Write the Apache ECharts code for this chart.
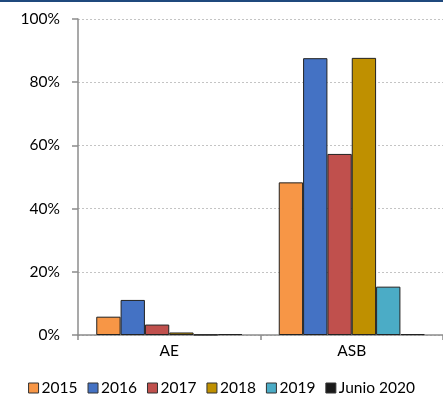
<!DOCTYPE html>
<html>
<head>
<meta charset="utf-8">
<script src="https://cdn.jsdelivr.net/npm/echarts@6/dist/echarts.min.js"></script>
<style>
html,body{margin:0;padding:0;background:#fff;}
#topline{position:absolute;left:0;top:0;width:443px;height:2px;background:#1F497D;}
#c{width:443px;height:402px;}
</style>
</head>
<body>
<div id="topline"></div>
<div id="c"></div>
<script>
const categories = ['AE', 'ASB'];
const seriesNames = ['2015', '2016', '2017', '2018', '2019', 'Junio 2020'];
const v2015 = [5.8, 48.3];
const v2016 = [11.1, 87.6];
const v2017 = [3.3, 57.3];
const v2018 = [0.8, 87.7];
const v2019 = [0.1, 15.3];
const vJunio2020 = [0.3, 0.3];
const yTicks = [0, 20, 40, 60, 80, 100];

const values = [v2015, v2016, v2017, v2018, v2019, vJunio2020];
const colors = ['#F79646', '#4472C4', '#C0504D', '#BF9000', '#4BACC6', '#1A1A1A'];
const font = 'Lato, "Noto Sans", sans-serif';

const chart = echarts.init(document.getElementById('c'));
chart.setOption({
  animation: false,
  textStyle: {fontFamily: font},
  legend: {
    bottom: 1,
    left: 'center',
    icon: 'rect',
    itemWidth: 10,
    itemHeight: 10,
    itemGap: 10,
    textStyle: {fontFamily: font, fontSize: 15.5, color: '#000', padding: [0,0,0,-2]},
    data: seriesNames.map((n, i) => ({name: n, itemStyle: {borderColor: '#333', borderWidth: 1}}))
  },
  grid: {left: 78, top: 19, width: 368, height: 316},
  xAxis: {
    type: 'category',
    data: categories,
    axisLine: {lineStyle: {color: '#8C8C8C', width: 1.5}},
    axisTick: {show: true, length: 5, lineStyle: {color: '#8C8C8C', width: 1.5}},
    axisLabel: {fontFamily: font, fontSize: 15.5, color: '#000', margin: 8}
  },
  yAxis: {
    type: 'value',
    min: yTicks[0],
    max: yTicks[yTicks.length - 1],
    interval: 20,
    axisLine: {show: true, lineStyle: {color: '#8C8C8C', width: 1.5}},
    axisTick: {show: true, length: 6, lineStyle: {color: '#8C8C8C', width: 1.5}},
    axisLabel: {fontFamily: font, fontSize: 15.5, color: '#000', margin: 18, formatter: '{value}%'},
    splitLine: {lineStyle: {color: '#C4C4C4', type: [2, 2], width: 1}}
  },
  series: seriesNames.map((n, i) => ({
    name: n,
    type: 'bar',
    data: values[i],
    barCategoryGap: '20%',
    barGap: '0%',
    itemStyle: {color: colors[i], borderColor: '#222', borderWidth: 1}
  }))
});
</script>
</body>
</html>
